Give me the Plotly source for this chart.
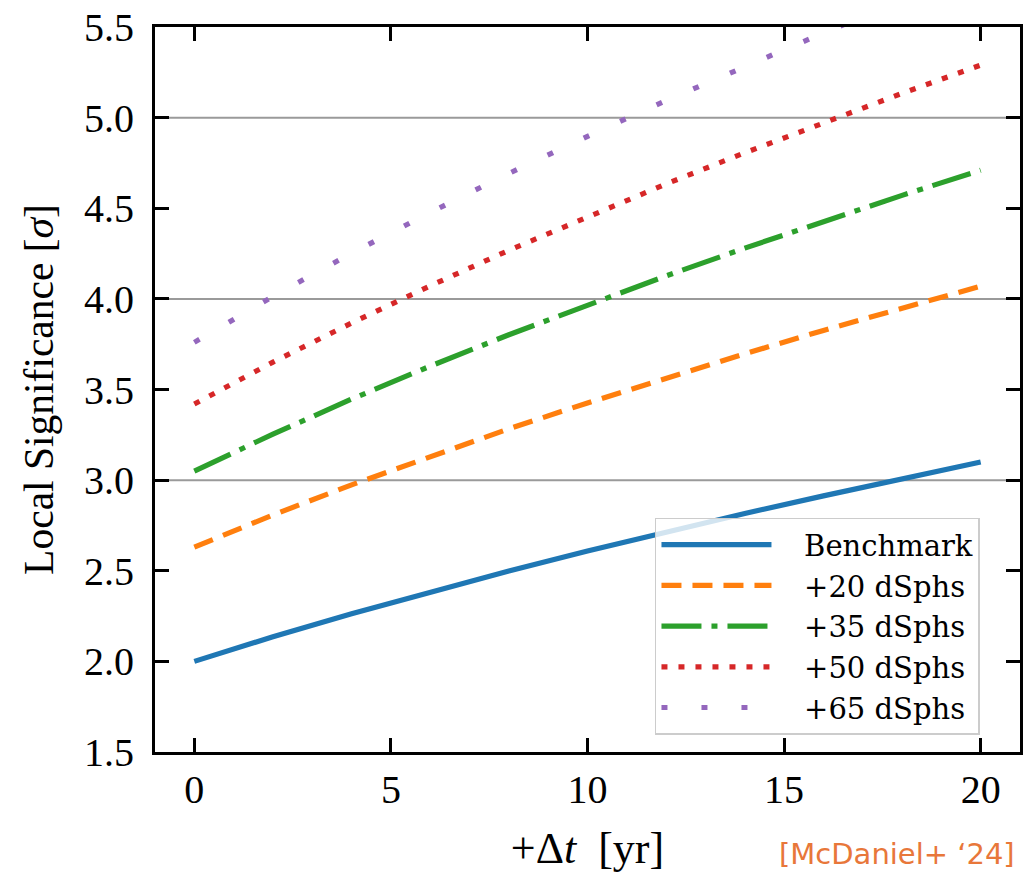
import plotly.graph_objects as go

years = [0, 2, 4, 6, 8, 10, 12, 14, 16, 18, 20]
benchmark = [2.000, 2.136, 2.263, 2.384, 2.499, 2.609, 2.714, 2.816, 2.913, 3.008, 3.100]
dsph20 = [2.630, 2.808, 2.974, 3.132, 3.283, 3.426, 3.564, 3.697, 3.826, 3.950, 4.070]
dsph35 = [3.050, 3.254, 3.447, 3.629, 3.802, 3.968, 4.127, 4.280, 4.428, 4.571, 4.710]
dsph50 = [3.420, 3.651, 3.867, 4.072, 4.268, 4.454, 4.634, 4.806, 4.973, 5.134, 5.290]
dsph65 = [3.760, 4.014, 4.252, 4.477, 4.692, 4.897, 5.094, 5.284, 5.467, 5.645, 5.816]

names = ["Benchmark", "+20 dSphs", "+35 dSphs", "+50 dSphs", "+65 dSphs"]
series = [benchmark, dsph20, dsph35, dsph50, dsph65]
colors = ["#1f77b4", "#ff7f0e", "#2ca02c", "#d62728", "#9467bd"]
dashes = ["solid", "20px,11px", "40px,10px,6px,10px", "6px,11px", "6px,34px"]

x_ticks = [0, 5, 10, 15, 20]
y_ticks = [1.5, 2.0, 2.5, 3.0, 3.5, 4.0, 4.5, 5.0, 5.5]
hlines = [3.0, 4.0, 5.0]

FONT = "Liberation Serif"
NB = "\u00a0"

fig = go.Figure()
for n, s, c, d in zip(names, series, colors, dashes):
    fig.add_trace(go.Scatter(x=years, y=s, name=NB * 3 + n, mode="lines",
                             line=dict(color=c, width=5.2, dash=d)))

for h in hlines:
    fig.add_shape(type="line", xref="paper", x0=0, x1=1, yref="y", y0=h, y1=h,
                  line=dict(color="#9a9a9a", width=2), layer="below")

axis_common = dict(showline=True, linecolor="black", linewidth=3, mirror="ticks",
                   ticks="inside", ticklen=14, tickwidth=2.5, tickcolor="black",
                   showgrid=False, zeroline=False, automargin=False,
                   ticklabeloverflow="allow",
                   tickfont=dict(family=FONT, size=40, color="black"))

fig.update_xaxes(range=[-1, 21], tickvals=x_ticks,
                 title=dict(text="+Δ<i>t</i>" + NB + " [yr]", font=dict(family=FONT, size=44, color="black"),
                            standoff=22),
                 **axis_common)
fig.update_yaxes(range=[1.5, 5.5], tickvals=y_ticks, tickformat=".1f", ticklabelstandoff=10,
                 title=dict(text="Local Significance [<i>σ</i>]", font=dict(family=FONT, size=41.5, color="black"),
                            standoff=18),
                 **axis_common)

fig.add_annotation(text="[McDaniel+ ‘24]", xref="paper", yref="paper",
                   x=0.997, y=-0.1669, xanchor="right", yanchor="bottom", showarrow=False,
                   font=dict(family="DejaVu Sans", size=29, color="#e8773a"))

fig.update_layout(
    width=1023, height=873,
    margin=dict(l=155, r=3, t=27, b=121),
    paper_bgcolor="white", plot_bgcolor="white",
    showlegend=True,
    legend=dict(x=0.578, y=0.323, xanchor="left", yanchor="top",
                bgcolor="rgba(255,255,255,0.8)", bordercolor="#cccccc", borderwidth=1.5,
                font=dict(family="DejaVu Serif", size=29, color="black"),
                itemwidth=110, tracegroupgap=0),
)

fig.write_html("out.html", config={"displayModeBar": False},
               post_script="document.body.style.margin='0';document.body.style.overflow='hidden';")
